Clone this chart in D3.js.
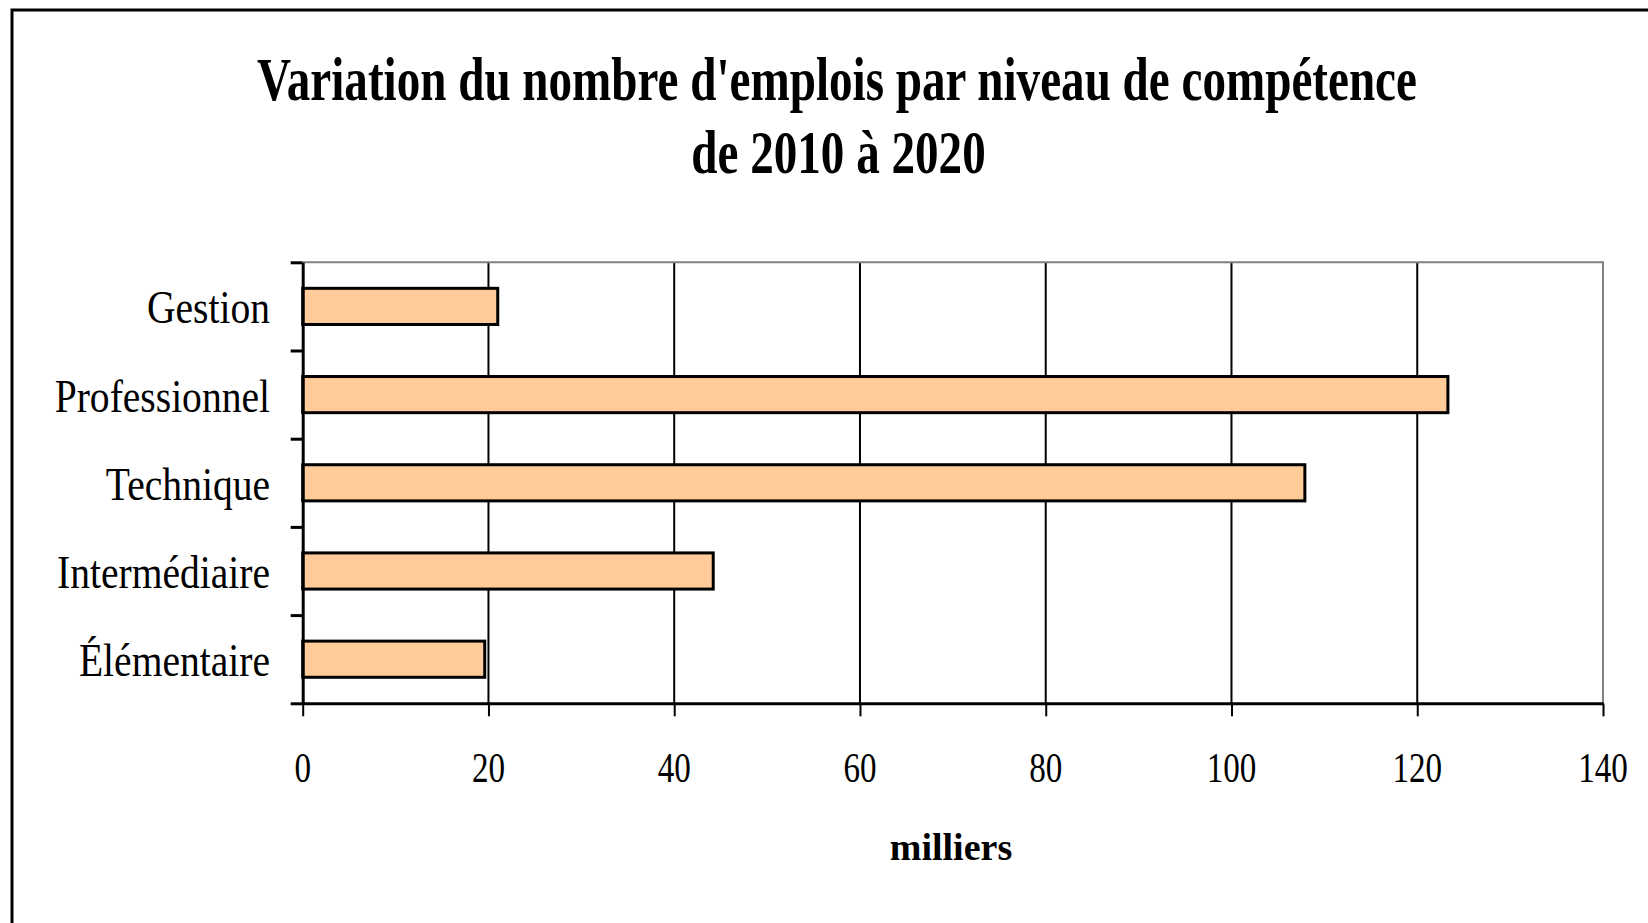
<!DOCTYPE html>
<html>
<head>
<meta charset="utf-8">
<script src="https://cdn.jsdelivr.net/npm/d3@7"></script>
<style>
  body { margin: 0; background: #fff; }
  svg { display: block; }
  text { font-family: "Liberation Serif", "Times New Roman", serif; fill: #000; }
</style>
</head>
<body>
<svg id="chart" width="1648" height="923"></svg>
<script>
// data (milliers)
const categories = ["Gestion", "Professionnel", "Technique", "Intermédiaire", "Élémentaire"]
const values = [21.0, 123.3, 107.9, 44.2, 19.6]
const xTicks = [0, 20, 40, 60, 80, 100, 120, 140]
const titleLines = ["Variation du nombre d'emplois par niveau de compétence", "de 2010 à 2020"]
const axisTitle = "milliers"

// plot area
let plotLeft = 302.7
let plotRight = 1603
let plotTop = 262.3
let plotBottom = 703.3

let svg = d3.select("#chart")

// outer frame, runs off the right and bottom of the picture
svg.append("rect")
    .attr("x", 12).attr("y", 10)
    .attr("width", 1700).attr("height", 1000)
    .attr("fill", "none")
    .attr("stroke", "#000")
    .attr("stroke-width", 3)

// title
svg.selectAll(".title")
    .data(titleLines)
    .enter()
    .append("text")
    .attr("class", "title")
    .attr("transform", (d, i) => "translate(" + (i == 0 ? 837 : 838.5) + "," + (i == 0 ? 99.5 : 173) + ") scale(0.76,1)")
    .attr("text-anchor", "middle")
    .style("font-size", "62px")
    .style("font-weight", "bold")
    .text(d => d)

let xscale = d3.scaleLinear().domain([0, 140]).range([plotLeft, plotRight])

let yscale = d3.scaleBand()
    .domain(categories)
    .range([plotTop, plotBottom])
    .paddingInner(0.59)
    .paddingOuter(0.295)

// category boundaries, for the tick marks on the left
let yedge = d3.scaleLinear().domain([0, categories.length]).range([plotTop, plotBottom])

// grid lines (not at 0 or 140)
svg.append("g")
    .selectAll("line")
    .data(xTicks.filter(d => d > 0 && d < 140))
    .enter()
    .append("line")
    .attr("x1", d => xscale(d)).attr("x2", d => xscale(d))
    .attr("y1", plotTop).attr("y2", plotBottom)
    .attr("stroke", "#000")
    .attr("stroke-width", 2)

// grey top and right edges of the plot area
svg.append("path")
    .attr("d", "M" + plotLeft + "," + plotTop + "H" + plotRight + "V" + plotBottom)
    .attr("fill", "none")
    .attr("stroke", "#808080")
    .attr("stroke-width", 2)

// bars
svg.append("g")
    .selectAll("rect")
    .data(values)
    .enter()
    .append("rect")
    .attr("x", xscale(0))
    .attr("y", (d, i) => yscale(categories[i]))
    .attr("width", d => xscale(d) - xscale(0))
    .attr("height", yscale.bandwidth())
    .attr("fill", "#FFCC99")
    .attr("stroke", "#000")
    .attr("stroke-width", 3)

// x axis
let xAxis = d3.axisBottom(xscale)
    .tickValues(xTicks)
    .tickSize(13)
    .tickSizeOuter(0)
    .tickFormat("")
let gx = svg.append("g").attr("transform", "translate(0," + plotBottom + ")").call(xAxis)
gx.select(".domain").attr("stroke", "#000").attr("stroke-width", 3)
gx.selectAll(".tick line").attr("stroke", "#000").attr("stroke-width", 2)

// y axis with ticks between categories
let yAxis = d3.axisLeft(yedge)
    .tickValues(d3.range(categories.length + 1))
    .tickSize(12)
    .tickSizeOuter(0)
    .tickFormat("")
let gy = svg.append("g").attr("transform", "translate(" + plotLeft + ",0)").call(yAxis)
gy.select(".domain").attr("stroke", "#000").attr("stroke-width", 3)
gy.selectAll(".tick line").attr("stroke", "#000").attr("stroke-width", 3)

// x tick labels
svg.append("g")
    .selectAll("text")
    .data(xTicks)
    .enter()
    .append("text")
    .attr("transform", d => "translate(" + xscale(d) + ",782) scale(0.77,1)")
    .attr("text-anchor", "middle")
    .style("font-size", "43px")
    .text(d => d)

// category labels
svg.append("g")
    .selectAll("text")
    .data(categories)
    .enter()
    .append("text")
    .attr("transform", d => "translate(270," + (yscale(d) + yscale.bandwidth() / 2 + 17) + ") scale(0.86,1)")
    .attr("text-anchor", "end")
    .style("font-size", "46px")
    .text(d => d)

// axis title
svg.append("text")
    .attr("x", 951)
    .attr("y", 860)
    .attr("text-anchor", "middle")
    .style("font-size", "38px")
    .style("font-weight", "bold")
    .text(axisTitle)
</script>
</body>
</html>
